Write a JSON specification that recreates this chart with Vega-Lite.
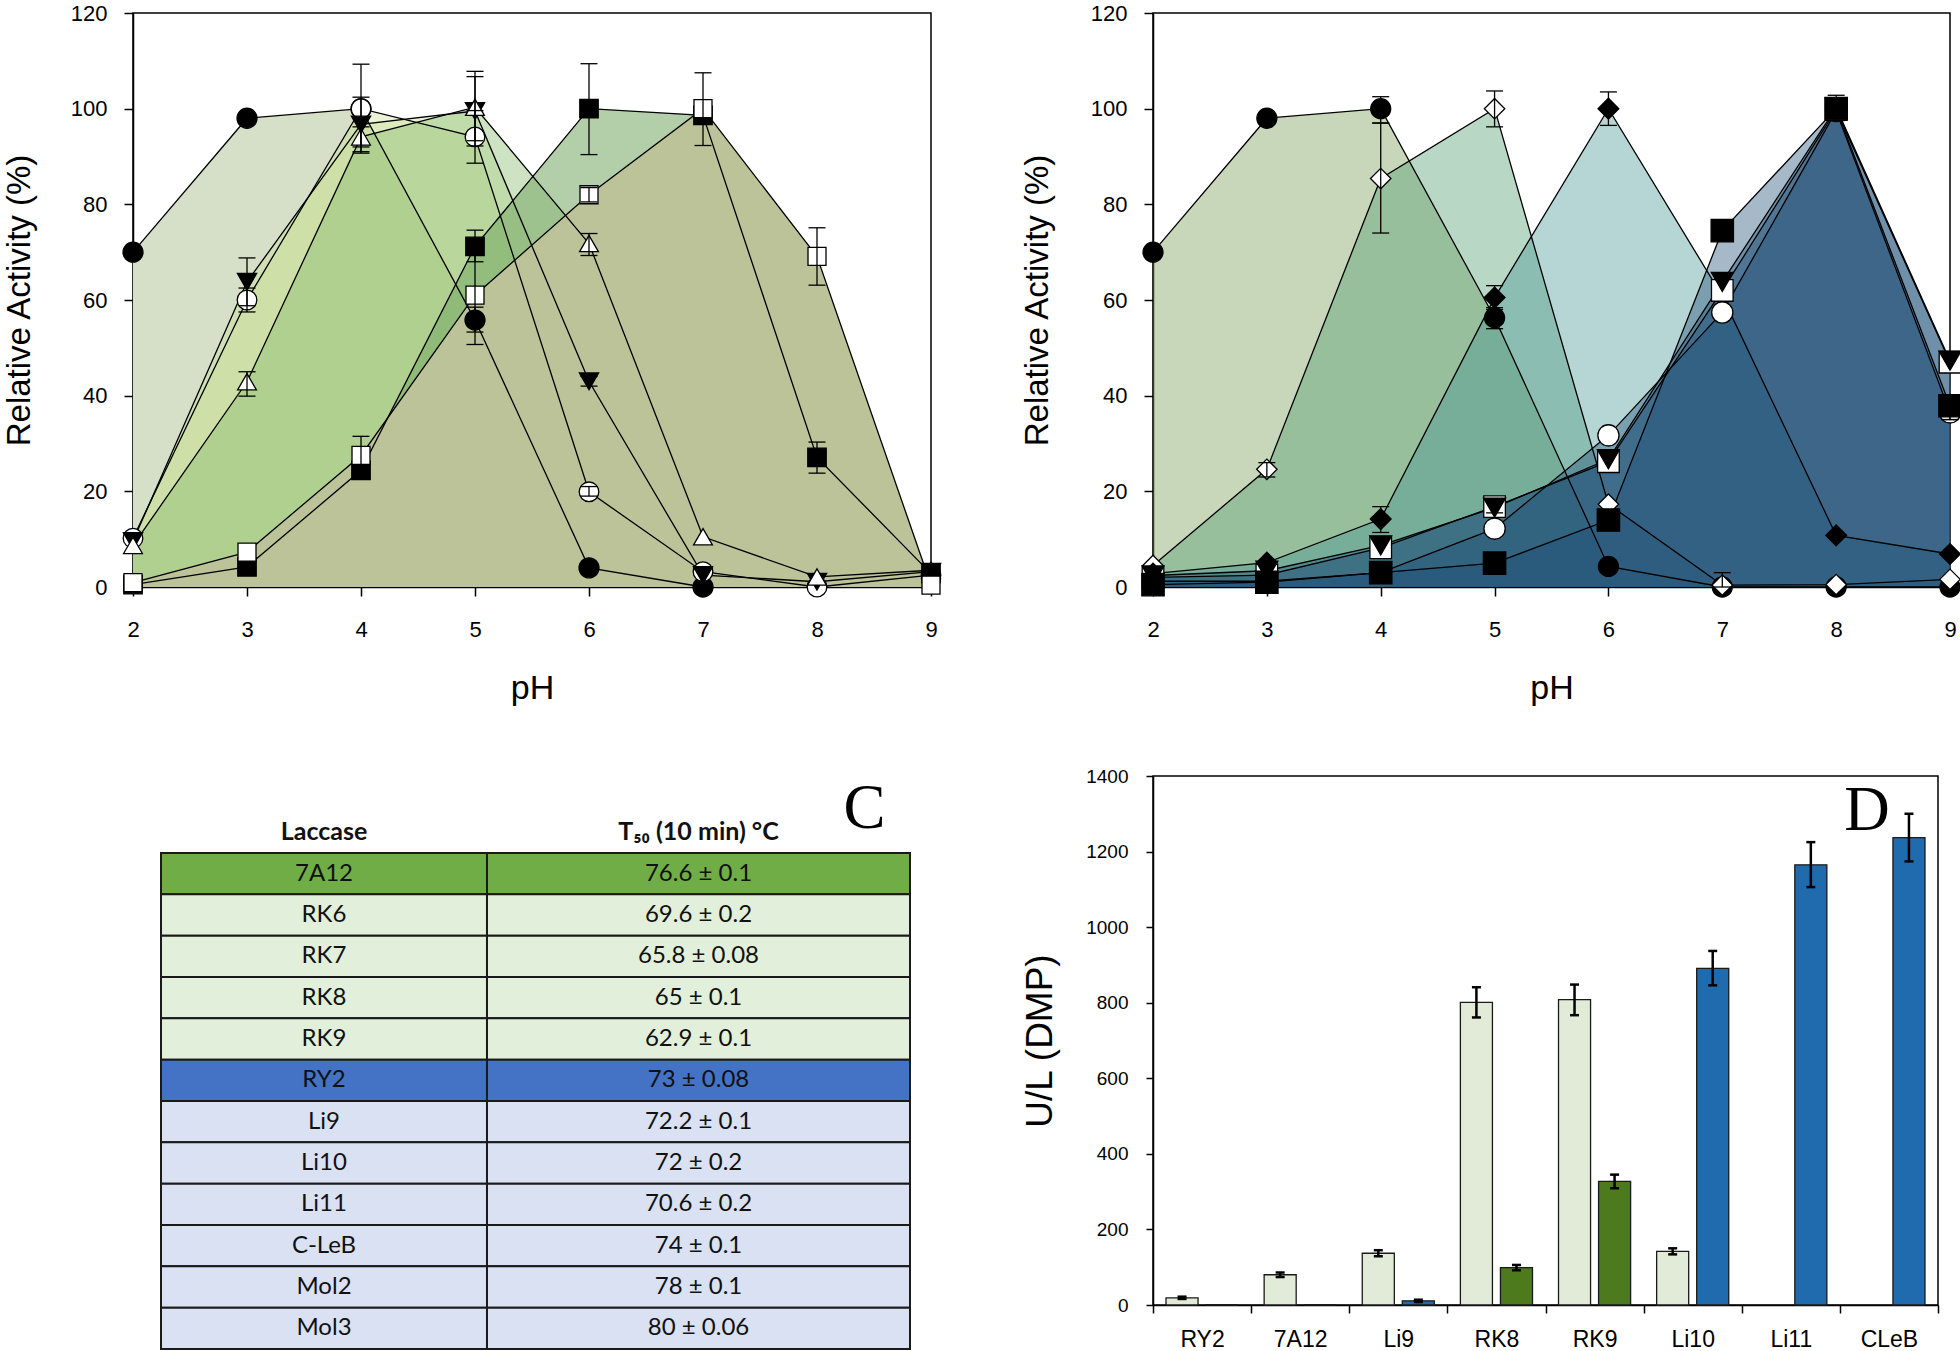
{
  "$schema": "https://vega.github.io/schema/vega-lite/v6.json",
  "background": "white",
  "padding": {"left": 2, "top": 1, "right": 0, "bottom": 0},
  "columns": 2,
  "spacing": {"row": 189, "column": 222},
  "bounds": "flush",
  "resolve": {"scale": {"color": "independent", "fill": "independent", "shape": "independent", "size": "independent"}},
  "datasets": {
    "A": [
      {"s": "s1", "ph": 2, "act": 70}, {"s": "s1", "ph": 3, "act": 98}, {"s": "s1", "ph": 4, "act": 100},
      {"s": "s1", "ph": 5, "act": 55.8, "lo": 53.3, "hi": 58.5}, {"s": "s1", "ph": 6, "act": 4}, {"s": "s1", "ph": 7, "act": 0},
      {"s": "s2", "ph": 2, "act": 10.2}, {"s": "s2", "ph": 3, "act": 60, "lo": 57.5, "hi": 62.5},
      {"s": "s2", "ph": 4, "act": 100, "lo": 90.7, "hi": 109.3}, {"s": "s2", "ph": 5, "act": 94.1, "lo": 88.6, "hi": 99.6},
      {"s": "s2", "ph": 6, "act": 19.9, "lo": 19, "hi": 21}, {"s": "s2", "ph": 7, "act": 3.2}, {"s": "s2", "ph": 8, "act": 0}, {"s": "s2", "ph": 9, "act": 2.5},
      {"s": "s3", "ph": 2, "act": 9.6}, {"s": "s3", "ph": 3, "act": 63.8, "lo": 58.8, "hi": 68.8},
      {"s": "s3", "ph": 4, "act": 96.7, "lo": 91, "hi": 102.4}, {"s": "s3", "ph": 5, "act": 99.5, "lo": 92.2, "hi": 107.8},
      {"s": "s3", "ph": 6, "act": 43, "lo": 42, "hi": 44}, {"s": "s3", "ph": 7, "act": 2.5}, {"s": "s3", "ph": 8, "act": 1.1}, {"s": "s3", "ph": 9, "act": 3.2},
      {"s": "s4", "ph": 2, "act": 8.7}, {"s": "s4", "ph": 3, "act": 42.9, "lo": 39.9, "hi": 45},
      {"s": "s4", "ph": 4, "act": 94.1, "lo": 92, "hi": 96.2}, {"s": "s4", "ph": 5, "act": 100.3, "lo": 93.3, "hi": 106.7},
      {"s": "s4", "ph": 6, "act": 71.8, "lo": 69.3, "hi": 73.9}, {"s": "s4", "ph": 7, "act": 10.5}, {"s": "s4", "ph": 8, "act": 2.1}, {"s": "s4", "ph": 9, "act": 3.5},
      {"s": "s5", "ph": 2, "act": 0.5}, {"s": "s5", "ph": 3, "act": 4.2}, {"s": "s5", "ph": 4, "act": 24.4},
      {"s": "s5", "ph": 5, "act": 71.2, "lo": 68, "hi": 74.6}, {"s": "s5", "ph": 6, "act": 100, "lo": 90.4, "hi": 109.4},
      {"s": "s5", "ph": 7, "act": 98.6}, {"s": "s5", "ph": 8, "act": 27.1, "lo": 23.8, "hi": 30.3}, {"s": "s5", "ph": 9, "act": 2.8},
      {"s": "s6", "ph": 2, "act": 0.9}, {"s": "s6", "ph": 3, "act": 7.3}, {"s": "s6", "ph": 4, "act": 27.5, "lo": 23.5, "hi": 31.5},
      {"s": "s6", "ph": 5, "act": 61, "lo": 50.7, "hi": 71.3}, {"s": "s6", "ph": 6, "act": 82, "lo": 80.5, "hi": 83.5},
      {"s": "s6", "ph": 7, "act": 100, "lo": 92.3, "hi": 107.5}, {"s": "s6", "ph": 8, "act": 69.1, "lo": 63.1, "hi": 75.1}, {"s": "s6", "ph": 9, "act": 0.4}
    ],
    "B": [
      {"s": "s1", "ph": 2, "act": 70}, {"s": "s1", "ph": 3, "act": 98}, {"s": "s1", "ph": 4, "act": 100, "lo": 97, "hi": 102.5},
      {"s": "s1", "ph": 5, "act": 56.3, "lo": 54, "hi": 58.4}, {"s": "s1", "ph": 6, "act": 4.3}, {"s": "s1", "ph": 7, "act": 0},
      {"s": "s1", "ph": 8, "act": 0}, {"s": "s1", "ph": 9, "act": 0},
      {"s": "s2", "ph": 2, "act": 4.5}, {"s": "s2", "ph": 3, "act": 24.6, "lo": 23, "hi": 26}, {"s": "s2", "ph": 4, "act": 85.4, "lo": 74, "hi": 97},
      {"s": "s2", "ph": 5, "act": 100, "lo": 96.2, "hi": 103.7}, {"s": "s2", "ph": 6, "act": 17.3}, {"s": "s2", "ph": 7, "act": 0.4, "lo": 0, "hi": 3},
      {"s": "s2", "ph": 8, "act": 0.5}, {"s": "s2", "ph": 9, "act": 1.6},
      {"s": "s3", "ph": 2, "act": 2.8}, {"s": "s3", "ph": 3, "act": 5.1}, {"s": "s3", "ph": 4, "act": 14.2, "lo": 11.4, "hi": 16.8},
      {"s": "s3", "ph": 5, "act": 60.5, "lo": 58, "hi": 63}, {"s": "s3", "ph": 6, "act": 100, "lo": 96.5, "hi": 103.5}, {"s": "s3", "ph": 7, "act": 60.8},
      {"s": "s3", "ph": 8, "act": 10.8}, {"s": "s3", "ph": 9, "act": 6.9},
      {"s": "s4", "ph": 2, "act": 1.2}, {"s": "s4", "ph": 3, "act": 1.2}, {"s": "s4", "ph": 4, "act": 3}, {"s": "s4", "ph": 5, "act": 12.2},
      {"s": "s4", "ph": 6, "act": 31.7}, {"s": "s4", "ph": 7, "act": 57.4}, {"s": "s4", "ph": 8, "act": 99.5}, {"s": "s4", "ph": 9, "act": 36.5, "lo": 35, "hi": 38},
      {"s": "s5", "ph": 2, "act": 2}, {"s": "s5", "ph": 3, "act": 2.5}, {"s": "s5", "ph": 4, "act": 8.2}, {"s": "s5", "ph": 5, "act": 16.8},
      {"s": "s5", "ph": 6, "act": 26.2}, {"s": "s5", "ph": 7, "act": 62}, {"s": "s5", "ph": 8, "act": 99.8}, {"s": "s5", "ph": 9, "act": 47},
      {"s": "s6", "ph": 2, "act": 2.4}, {"s": "s6", "ph": 3, "act": 3.4}, {"s": "s6", "ph": 4, "act": 8.7}, {"s": "s6", "ph": 5, "act": 16.6, "lo": 15.5, "hi": 18},
      {"s": "s6", "ph": 6, "act": 26.7}, {"s": "s6", "ph": 7, "act": 63.8}, {"s": "s6", "ph": 8, "act": 100.2, "lo": 97.5, "hi": 102.8}, {"s": "s6", "ph": 9, "act": 47.3},
      {"s": "s7", "ph": 2, "act": 0.5}, {"s": "s7", "ph": 3, "act": 1}, {"s": "s7", "ph": 4, "act": 3}, {"s": "s7", "ph": 5, "act": 5},
      {"s": "s7", "ph": 6, "act": 14}, {"s": "s7", "ph": 7, "act": 74.5}, {"s": "s7", "ph": 8, "act": 100}, {"s": "s7", "ph": 9, "act": 37.9, "lo": 35, "hi": 40}
    ],
    "table": [
      {"laccase": "7A12", "t50": "76.6 ± 0.1", "group": "parent green"},
      {"laccase": "RK6", "t50": "69.6 ± 0.2", "group": "variant green"},
      {"laccase": "RK7", "t50": "65.8 ± 0.08", "group": "variant green"},
      {"laccase": "RK8", "t50": "65 ± 0.1", "group": "variant green"},
      {"laccase": "RK9", "t50": "62.9 ± 0.1", "group": "variant green"},
      {"laccase": "RY2", "t50": "73 ± 0.08", "group": "parent blue"},
      {"laccase": "Li9", "t50": "72.2 ± 0.1", "group": "variant blue"},
      {"laccase": "Li10", "t50": "72 ± 0.2", "group": "variant blue"},
      {"laccase": "Li11", "t50": "70.6 ± 0.2", "group": "variant blue"},
      {"laccase": "C-LeB", "t50": "74 ± 0.1", "group": "variant blue"},
      {"laccase": "Mol2", "t50": "78 ± 0.1", "group": "variant blue"},
      {"laccase": "Mol3", "t50": "80 ± 0.06", "group": "variant blue"}
    ],
    "D": [
      {"lac": "RY2", "slot": "a", "series": "light", "v": 19, "lo": 16, "hi": 22},
      {"lac": "RY2", "slot": "b", "series": "blue", "v": 0},
      {"lac": "7A12", "slot": "a", "series": "light", "v": 80, "lo": 74, "hi": 86},
      {"lac": "7A12", "slot": "b", "series": "green", "v": 0},
      {"lac": "Li9", "slot": "a", "series": "light", "v": 137, "lo": 129, "hi": 145},
      {"lac": "Li9", "slot": "b", "series": "blue", "v": 11, "lo": 8, "hi": 14},
      {"lac": "RK8", "slot": "a", "series": "light", "v": 801, "lo": 761, "hi": 841},
      {"lac": "RK8", "slot": "b", "series": "green", "v": 99, "lo": 92, "hi": 106},
      {"lac": "RK9", "slot": "a", "series": "light", "v": 808, "lo": 767, "hi": 848},
      {"lac": "RK9", "slot": "b", "series": "green", "v": 327, "lo": 309, "hi": 345},
      {"lac": "Li10", "slot": "a", "series": "light", "v": 142, "lo": 134, "hi": 150},
      {"lac": "Li10", "slot": "b", "series": "blue", "v": 891, "lo": 846, "hi": 937},
      {"lac": "Li11", "slot": "b", "series": "blue", "v": 1165, "lo": 1106, "hi": 1225},
      {"lac": "CLeB", "slot": "b", "series": "blue", "v": 1237, "lo": 1174, "hi": 1300}
    ]
  },
  "concat": [
    {
      "width": 798, "height": 574,
      "data": {"name": "A"},
      "encoding": {
        "x": {"field": "ph", "type": "quantitative", "scale": {"domain": [2, 9], "nice": false, "zero": false},
          "axis": {"values": [2, 3, 4, 5, 6, 7, 8, 9], "format": "d", "title": "pH", "labelFont": "'Liberation Sans', sans-serif", "labelFontSize": 22, "labelPadding": 23, "tickSize": 9, "titleFont": "'Liberation Sans', sans-serif", "titleFontSize": 34, "titlePadding": 31}},
        "y": {"field": "act", "type": "quantitative", "stack": null, "scale": {"domain": [0, 120], "nice": false},
          "axis": {"values": [0, 20, 40, 60, 80, 100, 120], "format": "d", "title": "Relative Activity (%)", "labelFont": "'Liberation Sans', sans-serif", "labelFontSize": 22, "labelPadding": 17, "tickSize": 9, "titleFont": "'Liberation Sans', sans-serif", "titleFontSize": 33, "titlePadding": 34}}
      },
      "layer": [
        {"mark": {"type": "area", "line": false, "opacity": 1},
          "encoding": {"color": {"field": "s", "type": "nominal", "legend": null,
            "scale": {"domain": ["s1", "s2", "s3", "s4", "s5", "s6"], "range": ["rgba(214,224,200,1)", "rgba(203,224,150,0.4)", "rgba(203,224,150,0.4)", "rgba(132,186,108,0.4)", "rgba(117,168,99,0.55)", "rgba(188,195,152,1)"]}}}},
        {"mark": {"type": "line", "color": "#000", "strokeWidth": 1.3}, "encoding": {"detail": {"field": "s", "type": "nominal"}}},
        {"mark": {"type": "point", "filled": true, "opacity": 1, "stroke": "#000", "strokeWidth": 1.3},
          "encoding": {
            "shape": {"field": "s", "type": "nominal", "legend": null, "scale": {"domain": ["s1", "s2", "s3", "s4", "s5", "s6"], "range": ["circle", "circle", "triangle-down", "triangle-up", "square", "square"]}},
            "fill": {"field": "s", "type": "nominal", "legend": null, "scale": {"domain": ["s1", "s2", "s3", "s4", "s5", "s6"], "range": ["#000", "#fff", "#000", "#fff", "#000", "#fff"]}},
            "size": {"field": "s", "type": "nominal", "legend": null, "scale": {"domain": ["s1", "s2", "s3", "s4", "s5", "s6"], "range": [400, 324, 340, 340, 289, 289]}}
          }},
        {"transform": [{"filter": "datum.lo != null"}], "mark": {"type": "rule", "color": "#000", "strokeWidth": 1.3},
          "encoding": {"y": {"field": "lo", "type": "quantitative"}, "y2": {"field": "hi"}}},
        {"transform": [{"filter": "datum.lo != null"}], "mark": {"type": "tick", "orient": "horizontal", "color": "#000", "size": 17, "thickness": 1.3, "opacity": 1},
          "encoding": {"y": {"field": "lo", "type": "quantitative"}}},
        {"transform": [{"filter": "datum.lo != null"}], "mark": {"type": "tick", "orient": "horizontal", "color": "#000", "size": 17, "thickness": 1.3, "opacity": 1},
          "encoding": {"y": {"field": "hi", "type": "quantitative"}}},
        {"data": {"values": [{"t": "A"}]}, "mark": {"type": "text", "font": "'Liberation Serif', serif", "fontSize": 63, "baseline": "alphabetic", "align": "center", "color": "#000"},
          "encoding": {"x": {"datum": 8.32, "type": "quantitative"}, "y": {"datum": 108.5, "type": "quantitative"}, "text": {"field": "t"}}}
      ]
    },
    {
      "width": 797, "height": 574,
      "data": {"name": "B"},
      "encoding": {
        "x": {"field": "ph", "type": "quantitative", "scale": {"domain": [2, 9], "nice": false, "zero": false},
          "axis": {"values": [2, 3, 4, 5, 6, 7, 8, 9], "format": "d", "title": "pH", "labelFont": "'Liberation Sans', sans-serif", "labelFontSize": 22, "labelPadding": 23, "tickSize": 9, "titleFont": "'Liberation Sans', sans-serif", "titleFontSize": 34, "titlePadding": 31}},
        "y": {"field": "act", "type": "quantitative", "stack": null, "scale": {"domain": [0, 120], "nice": false},
          "axis": {"values": [0, 20, 40, 60, 80, 100, 120], "format": "d", "title": "Relative Activity (%)", "labelFont": "'Liberation Sans', sans-serif", "labelFontSize": 22, "labelPadding": 17, "tickSize": 9, "titleFont": "'Liberation Sans', sans-serif", "titleFontSize": 33, "titlePadding": 36}}
      },
      "layer": [
        {"mark": {"type": "area", "line": false, "opacity": 1},
          "encoding": {"color": {"field": "s", "type": "nominal", "legend": null,
            "scale": {"domain": ["s1", "s2", "s3", "s4", "s5", "s6", "s7"], "range": ["rgba(118,155,83,0.4)", "rgba(78,155,110,0.4)", "rgba(73,150,150,0.4)", "rgba(33,80,120,0.4)", "rgba(33,80,120,0.4)", "rgba(33,80,120,0.4)", "rgba(33,80,120,0.4)"]}}}},
        {"mark": {"type": "line", "color": "#000", "strokeWidth": 1.3}, "encoding": {"detail": {"field": "s", "type": "nominal"}}},
        {"mark": {"type": "point", "filled": true, "opacity": 1, "stroke": "#000", "strokeWidth": 1.3},
          "encoding": {
            "shape": {"field": "s", "type": "nominal", "legend": null, "scale": {"domain": ["s1", "s2", "s3", "s4", "s5", "s6", "s7"], "range": ["circle", "diamond", "diamond", "circle", "square", "triangle-down", "square"]}},
            "fill": {"field": "s", "type": "nominal", "legend": null, "scale": {"domain": ["s1", "s2", "s3", "s4", "s5", "s6", "s7"], "range": ["#000", "#fff", "#000", "#fff", "#fff", "#000", "#000"]}},
            "size": {"field": "s", "type": "nominal", "legend": null, "scale": {"domain": ["s1", "s2", "s3", "s4", "s5", "s6", "s7"], "range": [400, 500, 500, 289, 256, 340, 324]}}
          }},
        {"transform": [{"filter": "datum.lo != null"}], "mark": {"type": "rule", "color": "#000", "strokeWidth": 1.3},
          "encoding": {"y": {"field": "lo", "type": "quantitative"}, "y2": {"field": "hi"}}},
        {"transform": [{"filter": "datum.lo != null"}], "mark": {"type": "tick", "orient": "horizontal", "color": "#000", "size": 17, "thickness": 1.3, "opacity": 1},
          "encoding": {"y": {"field": "lo", "type": "quantitative"}}},
        {"transform": [{"filter": "datum.lo != null"}], "mark": {"type": "tick", "orient": "horizontal", "color": "#000", "size": 17, "thickness": 1.3, "opacity": 1},
          "encoding": {"y": {"field": "hi", "type": "quantitative"}}},
        {"data": {"values": [{"t": "B"}]}, "mark": {"type": "text", "font": "'Liberation Serif', serif", "fontSize": 63, "baseline": "alphabetic", "align": "center", "color": "#000"},
          "encoding": {"x": {"datum": 8.33, "type": "quantitative"}, "y": {"datum": 108.6, "type": "quantitative"}, "text": {"field": "t"}}}
      ]
    },
    {
      "width": 777, "height": 573,
      "view": {"stroke": null},
      "data": {"name": "table"},
      "layer": [
        {
          "layer": [
            {"mark": {"type": "rect", "stroke": "#1a1a1a", "strokeWidth": 2},
              "encoding": {
                "x": {"datum": "Laccase", "type": "nominal", "axis": null, "scale": {"domain": ["Laccase"], "paddingInner": 0, "paddingOuter": 0.6917, "align": 0.0621}},
                "y": {"field": "laccase", "type": "nominal", "axis": null, "scale": {"domain": ["header", "7A12", "RK6", "RK7", "RK8", "RK9", "RY2", "Li9", "Li10", "Li11", "C-LeB", "Mol2", "Mol3"], "paddingInner": 0, "paddingOuter": 0.4315, "align": 1}},
                "fill": {"field": "group", "type": "nominal", "legend": null, "scale": {"domain": ["parent green", "variant green", "parent blue", "variant blue"], "range": ["#70AD47", "#E2EFDA", "#4472C4", "#D9E1F2"]}}
              }},
            {"mark": {"type": "text", "font": "Lato, 'Open Sans', sans-serif", "fontSize": 24, "color": "#111"},
              "encoding": {"x": {"datum": "Laccase", "type": "nominal"}, "y": {"field": "laccase", "type": "nominal"}, "text": {"field": "laccase"}}},
            {"data": {"values": [{"h": "Laccase"}]}, "mark": {"type": "text", "font": "Lato, 'Open Sans', sans-serif", "fontSize": 25, "fontWeight": "bold", "color": "#111"},
              "encoding": {"x": {"datum": "Laccase", "type": "nominal"}, "y": {"datum": "header", "type": "nominal"}, "text": {"field": "h"}}}
          ]
        },
        {
          "layer": [
            {"mark": {"type": "rect", "stroke": "#1a1a1a", "strokeWidth": 2},
              "encoding": {
                "x": {"datum": "T50", "type": "nominal", "axis": null, "scale": {"domain": ["T50"], "paddingInner": 0, "paddingOuter": 0.4184, "align": 1}},
                "y": {"field": "laccase", "type": "nominal"},
                "fill": {"field": "group", "type": "nominal", "legend": null}
              }},
            {"mark": {"type": "text", "font": "Lato, 'Open Sans', sans-serif", "fontSize": 24, "color": "#111"},
              "encoding": {"x": {"datum": "T50", "type": "nominal"}, "y": {"field": "laccase", "type": "nominal"}, "text": {"field": "t50"}}},
            {"data": {"values": [{"h": "T₅₀ (10 min) °C"}]}, "mark": {"type": "text", "font": "Lato, 'Open Sans', sans-serif", "fontSize": 25, "fontWeight": "bold", "color": "#111"},
              "encoding": {"x": {"datum": "T50", "type": "nominal"}, "y": {"datum": "header", "type": "nominal"}, "text": {"field": "h"}}},
            {"data": {"values": [{"t": "C"}]}, "mark": {"type": "text", "font": "'Liberation Serif', serif", "fontSize": 63, "baseline": "alphabetic", "align": "center", "dx": 166, "dy": -4, "color": "#000"},
              "encoding": {"x": {"datum": "T50", "type": "nominal"}, "y": {"datum": "header", "type": "nominal"}, "text": {"field": "t"}}}
          ]
        }
      ],
      "resolve": {"scale": {"x": "independent"}}
    },
    {
      "width": 785, "height": 529,
      "data": {"name": "D"},
      "layer": [
        {"mark": {"type": "bar", "stroke": "#1a1a1a", "strokeWidth": 1.3},
          "encoding": {
            "x": {"field": "lac", "type": "nominal", "sort": null, "scale": {"domain": ["RY2", "7A12", "Li9", "RK8", "RK9", "Li10", "Li11", "CLeB"], "paddingInner": 0, "paddingOuter": 0},
              "axis": {"title": null, "labelAngle": 0, "labelFont": "'Liberation Sans', sans-serif", "labelFontSize": 23, "labelPadding": 15, "tickSize": 8, "tickBand": "extent"}},
            "xOffset": {"field": "slot", "type": "nominal", "scale": {"domain": ["a", "b"], "paddingInner": 0.2, "paddingOuter": 0.325}},
            "y": {"field": "v", "type": "quantitative", "scale": {"domain": [0, 1400], "nice": false},
              "axis": {"values": [0, 200, 400, 600, 800, 1000, 1200, 1400], "format": "d", "title": "U/L (DMP)", "labelFont": "'Liberation Sans', sans-serif", "labelFontSize": 19, "labelPadding": 18, "tickSize": 7, "titleFont": "'Liberation Sans', sans-serif", "titleFontSize": 37, "titlePadding": 26}},
            "fill": {"field": "series", "type": "nominal", "legend": null, "scale": {"domain": ["light", "green", "blue"], "range": ["#E2EBD7", "#4E7A1E", "#1F6BAE"]}}
          }},
        {"transform": [{"filter": "datum.lo != null"}], "mark": {"type": "rule", "color": "#000", "strokeWidth": 2.5},
          "encoding": {"x": {"field": "lac", "type": "nominal"}, "xOffset": {"field": "slot", "type": "nominal"}, "y": {"field": "lo", "type": "quantitative"}, "y2": {"field": "hi"}}},
        {"transform": [{"filter": "datum.lo != null"}], "mark": {"type": "tick", "orient": "horizontal", "color": "#000", "size": 9, "thickness": 2.5, "opacity": 1},
          "encoding": {"x": {"field": "lac", "type": "nominal"}, "xOffset": {"field": "slot", "type": "nominal"}, "y": {"field": "lo", "type": "quantitative"}}},
        {"transform": [{"filter": "datum.lo != null"}], "mark": {"type": "tick", "orient": "horizontal", "color": "#000", "size": 9, "thickness": 2.5, "opacity": 1},
          "encoding": {"x": {"field": "lac", "type": "nominal"}, "xOffset": {"field": "slot", "type": "nominal"}, "y": {"field": "hi", "type": "quantitative"}}},
        {"data": {"values": [{"t": "D"}]}, "mark": {"type": "text", "font": "'Liberation Serif', serif", "fontSize": 63, "baseline": "alphabetic", "align": "center", "dx": -22, "color": "#000"},
          "encoding": {"x": {"datum": "CLeB", "type": "nominal"}, "y": {"datum": 1258, "type": "quantitative"}, "text": {"field": "t"}}}
      ]
    }
  ],
  "config": {
    "font": "'Liberation Sans', sans-serif",
    "view": {"stroke": "#000", "strokeWidth": 1.5},
    "axis": {"domainColor": "#000", "domainWidth": 1.5, "tickColor": "#000", "tickWidth": 1.5, "labelColor": "#000", "titleColor": "#000", "titleFontWeight": "normal", "grid": false, "labelFlush": false, "labelOverlap": false}
  }
}
